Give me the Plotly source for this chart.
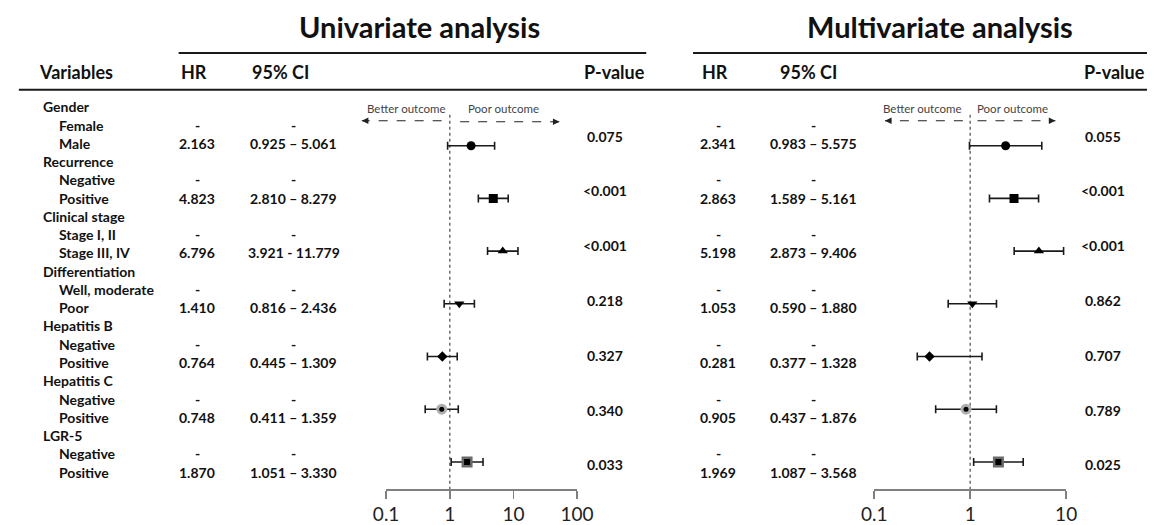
import plotly.graph_objects as go

# ---------------- data ----------------
groups = ["Gender", "Recurrence", "Clinical stage", "Differentiation",
          "Hepatitis B", "Hepatitis C", "LGR-5"]
ref_levels = ["Female", "Negative", "Stage I, II", "Well, moderate",
              "Negative", "Negative", "Negative"]
cmp_levels = ["Male", "Positive", "Stage III, IV", "Poor",
              "Positive", "Positive", "Positive"]

uni_hr = [2.163, 4.823, 6.796, 1.410, 0.764, 0.748, 1.870]
uni_lo = [0.925, 2.810, 3.921, 0.816, 0.445, 0.411, 1.051]
uni_hi = [5.061, 8.279, 11.779, 2.436, 1.309, 1.359, 3.330]
uni_hr_text = ["2.163", "4.823", "6.796", "1.410", "0.764", "0.748", "1.870"]
uni_ci_text = ["0.925 – 5.061", "2.810 – 8.279", "3.921 - 11.779", "0.816 – 2.436",
               "0.445 – 1.309", "0.411 – 1.359", "1.051 – 3.330"]
uni_p = ["0.075", "<0.001", "<0.001", "0.218", "0.327", "0.340", "0.033"]

multi_hr = [2.341, 2.863, 5.198, 1.053, 0.377, 0.905, 1.969]   # plotted point
multi_lo = [0.983, 1.589, 2.873, 0.590, 0.281, 0.437, 1.087]
multi_hi = [5.575, 5.161, 9.406, 1.880, 1.328, 1.876, 3.568]
multi_hr_text = ["2.341", "2.863", "5.198", "1.053", "0.281", "0.905", "1.969"]
multi_ci_text = ["0.983 – 5.575", "1.589 – 5.161", "2.873 – 9.406", "0.590 – 1.880",
                 "0.377 – 1.328", "0.437 – 1.876", "1.087 – 3.568"]
multi_p = ["0.055", "<0.001", "<0.001", "0.862", "0.707", "0.789", "0.025"]

tick_vals_uni = [0.1, 1, 10, 100]
tick_vals_multi = [0.1, 1, 10]

# ---------------- styling ----------------
W, H = 1164, 525
FONT = "Lato"
TXT = "#111111"
symbols = ["circle", "square", "triangle-up", "triangle-down", "diamond", "circle", "square"]
sizes = [9, 9, 9, 9, 8, 11, 11]
colors = ["#000", "#000", "#000", "#000", "#000", "#b0b0b0", "#6a6a6a"]
inner = [None, None, None, None, None, ("circle", 5), ("square", 6)]


def px(x):
    return x / W


def py(y):
    return 1 - y / H


fig = go.Figure()

panels = [
    (uni_hr, uni_lo, uni_hi, "x"),
    (multi_hr, multi_lo, multi_hi, "x2"),
]
for hr, lo, hi, xa in panels:
    # reference line at HR = 1
    fig.add_trace(go.Scatter(x=[1, 1], y=[-0.59, 6.515], mode="lines",
                             line=dict(color="#6f6f6f", width=1.5, dash="dot"),
                             xaxis=xa, yaxis="y2", hoverinfo="skip", showlegend=False))
    for g in range(len(groups)):
        fig.add_trace(go.Scatter(
            x=[hr[g]], y=[g], mode="markers", xaxis=xa, yaxis="y2",
            marker=dict(symbol=symbols[g], size=sizes[g], color=colors[g], line=dict(width=0)),
            error_x=dict(type="data", symmetric=False, array=[hi[g] - hr[g]],
                         arrayminus=[hr[g] - lo[g]], color="#1a1a1a", thickness=1.6, width=4),
            showlegend=False))
        if inner[g]:
            fig.add_trace(go.Scatter(
                x=[hr[g]], y=[g], mode="markers", xaxis=xa, yaxis="y2",
                marker=dict(symbol=inner[g][0], size=inner[g][1], color="#000", line=dict(width=0)),
                showlegend=False))

# dummy trace for the table coordinate system
fig.add_trace(go.Scatter(x=[0], y=[0], mode="markers", marker=dict(opacity=0),
                         xaxis="x3", yaxis="y3", showlegend=False, hoverinfo="skip"))

ann = []


def t(x, y, text, size=14, bold=True, anchor="center", color=TXT, yref="y3"):
    ann.append(dict(x=x, y=y, xref="x3", yref=yref, text=text, showarrow=False,
                    xanchor=anchor, yanchor="middle",
                    font=dict(family=FONT, size=size, color=color, weight=700 if bold else 400)))


# table body
for g, name in enumerate(groups):
    r = 3 * g
    t(29, r, name, anchor="left")
    t(45, r + 1, ref_levels[g], anchor="left")
    t(45, r + 2, cmp_levels[g], anchor="left")
    # univariate
    t(189, r + 1, "-")
    t(288, r + 1, "-")
    t(189, r + 2, uni_hr_text[g])
    t(288, r + 2, uni_ci_text[g])
    t(608, r + 2 - 0.4, uni_p[g])
    # multivariate
    t(724, r + 1, "-")
    t(822, r + 1, "-")
    t(724, r + 2, multi_hr_text[g])
    t(822, r + 2, multi_ci_text[g])
    t(1119, r + 2 - 0.4, multi_p[g])

# headers (paper y)
def hdr(x, y, text, size=18, anchor="center"):
    ann.append(dict(x=x, y=py(y), xref="x3", yref="paper", text=text, showarrow=False,
                    xanchor=anchor, yanchor="middle",
                    font=dict(family=FONT, size=size, color=TXT, weight=700)))


hdr(417, 27, "Univariate analysis", size=29)
hdr(952, 27, "Multivariate analysis", size=29)
hdr(25, 72, "Variables", anchor="left")
hdr(186, 72, "HR")
hdr(243, 72, "95% CI", anchor="left")
hdr(617, 72, "P-value")
hdr(721, 72, "HR")
hdr(785, 72, "95% CI", anchor="left")
hdr(1131, 72, "P-value")

# outcome labels
for cx, text in [(404, "Better outcome"), (503, "Poor outcome"),
                 (934, "Better outcome"), (1026, "Poor outcome")]:
    ann.append(dict(x=px(cx), y=py(109), xref="paper", yref="paper", text=text,
                    showarrow=False, xanchor="center", yanchor="middle",
                    font=dict(family=FONT, size=11.5, color="#444")))

shapes = []
# header rules
for x0, x1, y in [(170, 650, 53), (698, 1164, 53), (6, 1164, 90)]:
    shapes.append(dict(type="line", xref="paper", yref="paper", x0=px(x0), x1=px(x1),
                       y0=py(y), y1=py(y), line=dict(color="#1a1a1a", width=2)))

# dashed arrows
for tail, tip, y in [(440, 358, 121), (459, 561, 122), (975, 895, 121), (990, 1070, 121)]:
    shapes.append(dict(type="line", xref="paper", yref="paper", x0=px(tail), x1=px(tip),
                       y0=py(y), y1=py(y), line=dict(color="#222", width=1.2, dash="dash")))
    d = 1 if tail > tip else -1
    ann.append(dict(x=px(tip), y=py(y), xref="paper", yref="paper", text="",
                    showarrow=True, ax=d * 8, ay=0, arrowhead=2, arrowsize=1.1,
                    arrowwidth=1.2, arrowcolor="#222"))

axis_common = dict(type="log", anchor="y2", showline=True, linecolor="#808080", linewidth=1.5,
                   ticks="outside", ticklen=8, tickcolor="#808080", tickwidth=1.5,
                   showgrid=False, zeroline=False,
                   tickfont=dict(family=FONT, size=19, color="#222"))

fig.update_layout(
    width=W, height=H, margin=dict(l=0, r=0, t=0, b=0),
    paper_bgcolor="white", plot_bgcolor="rgba(0,0,0,0)",
    xaxis=dict(domain=[px(383), px(579)], range=[-1, 2], tickvals=tick_vals_uni,
               ticktext=[str(v) for v in tick_vals_uni], **axis_common),
    xaxis2=dict(domain=[px(884), px(1081)], range=[-1, 1], tickvals=tick_vals_multi,
                ticktext=[str(v) for v in tick_vals_multi], **axis_common),
    yaxis2=dict(domain=[35 / H, 1], range=[6.515, -2.765], visible=False, anchor="x"),
    xaxis3=dict(domain=[0, 1], range=[0, W], visible=False, anchor="y3"),
    yaxis3=dict(domain=[0, 1], range=[(H - 107) / 18.3, -107 / 18.3], visible=False, anchor="x3"),
    annotations=ann, shapes=shapes, showlegend=False, hovermode=False,
)

fig.write_html("out.html", config={"displayModeBar": False, "staticPlot": True},
               post_script="document.body.style.margin='0';document.body.style.overflow='hidden';")
